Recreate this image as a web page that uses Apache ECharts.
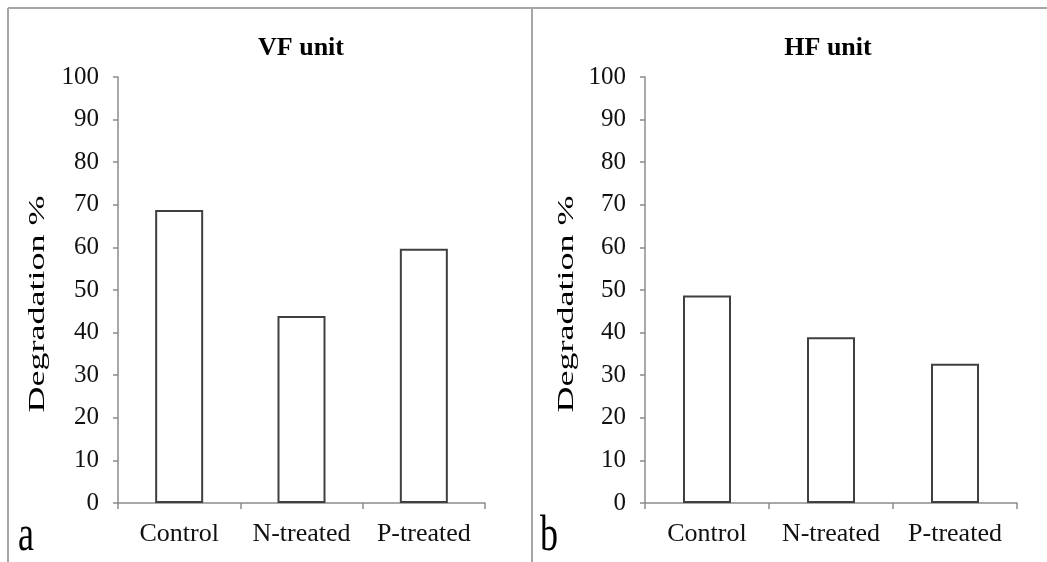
<!DOCTYPE html>
<html>
<head>
<meta charset="utf-8">
<style>
  html, body { margin: 0; padding: 0; background: #ffffff; }
  #chart { width: 1047px; height: 562px; }
</style>
<script src="https://cdn.jsdelivr.net/npm/echarts@6/dist/echarts.min.js"></script>
</head>
<body>
<div id="chart"></div>
<script>
// Treatments on the category axis
const categories = ['Control', 'N-treated', 'P-treated'];
// Degradation (%) per treatment, vertical-flow unit
const vfValues = [68.8, 43.9, 59.7];
// Degradation (%) per treatment, horizontal-flow unit
const hfValues = [48.7, 38.9, 32.7];
// Panel titles and letters
const panelTitles = ['VF unit', 'HF unit'];
const panelLetters = ['a', 'b'];
const yAxisTitle = 'Degradation %';

const FONT = '"Liberation Serif", "Times New Roman", serif';
const AXIS_GREY = '#8c8c8c';
const BAR_EDGE = '#404040';

const chart = echarts.init(document.getElementById('chart'), null, { renderer: 'canvas' });

const grids = [
  { left: 118, right: 562, top: 77, bottom: 59 },
  { left: 645, right: 30, top: 77, bottom: 59 }
];

function xAxisFor(i) {
  return {
    type: 'category', gridIndex: i, data: categories,
    axisLine: { lineStyle: { color: AXIS_GREY, width: 1.5 } },
    axisTick: { show: true, length: 6, lineStyle: { color: AXIS_GREY, width: 1.5 } },
    axisLabel: { color: '#111', fontFamily: FONT, fontSize: 26, margin: 18, interval: 0, hideOverlap: false },
    splitLine: { show: false }
  };
}
function yAxisFor(i) {
  return {
    type: 'value', gridIndex: i, min: 0, max: 100, interval: 10,
    axisLine: { show: true, lineStyle: { color: AXIS_GREY, width: 1.5 } },
    axisTick: { show: true, length: 5, lineStyle: { color: AXIS_GREY, width: 1.5 } },
    axisLabel: { color: '#111', fontFamily: FONT, fontSize: 25, margin: 19 },
    splitLine: { show: false }
  };
}
function barSeries(i, values) {
  return {
    type: 'bar', xAxisIndex: i, yAxisIndex: i, data: values, barWidth: 48,
    itemStyle: { color: '#ffffff', borderColor: BAR_EDGE, borderWidth: 2 },
    silent: true, animation: false
  };
}

const frameLine = { stroke: '#a6a6a6', lineWidth: 2 };

chart.setOption({
  backgroundColor: '#ffffff',
  animation: false,
  title: panelTitles.map((t, i) => ({
    text: t,
    left: i === 0 ? 296 : 823, top: 30, textAlign: 'center',
    textStyle: { fontFamily: FONT, fontWeight: 'bold', fontSize: 26, color: '#000' }
  })),
  grid: grids,
  xAxis: [xAxisFor(0), xAxisFor(1)],
  yAxis: [yAxisFor(0), yAxisFor(1)],
  series: [barSeries(0, vfValues), barSeries(1, hfValues)],
  graphic: [
    // outer frame and panel divider
    { type: 'line', shape: { x1: 8, y1: 8, x2: 1047, y2: 8 }, style: frameLine, silent: true },
    { type: 'line', shape: { x1: 8, y1: 8, x2: 8, y2: 562 }, style: frameLine, silent: true },
    { type: 'line', shape: { x1: 532, y1: 8, x2: 532, y2: 562 }, style: frameLine, silent: true },
    // y-axis titles, drawn stretched along their length
    ...[38, 567].map(x => ({
      type: 'text', x: x, y: 304, rotation: Math.PI / 2, scaleX: 1.5,
      style: { text: yAxisTitle, font: '24px ' + FONT, fill: '#000', align: 'center', verticalAlign: 'middle' },
      silent: true
    })),
    // panel letters
    ...[26, 549].map((x, i) => ({
      type: 'text', x: x, y: 537, scaleX: 0.72,
      style: { text: panelLetters[i], font: '50px ' + FONT, fill: '#000', align: 'center', verticalAlign: 'middle' },
      silent: true
    }))
  ]
});
</script>
</body>
</html>
